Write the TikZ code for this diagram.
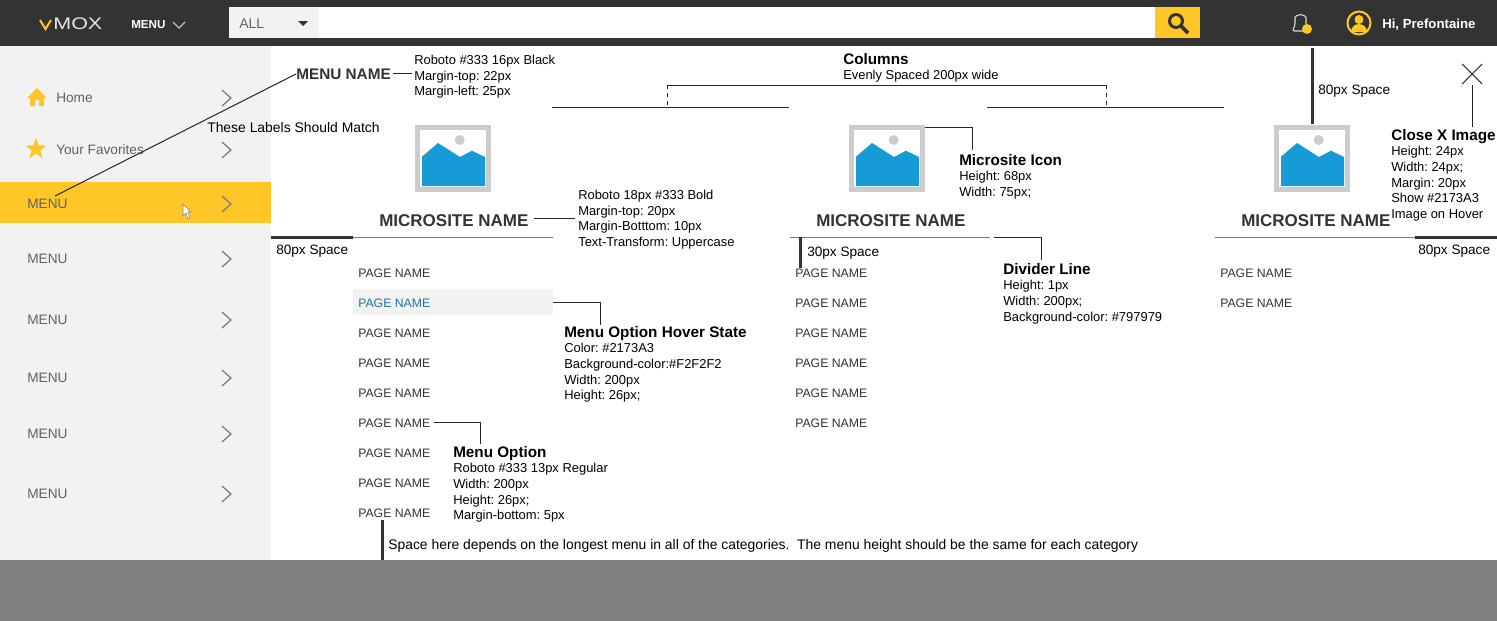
\documentclass[tikz,border=0pt]{standalone}
\usepackage{fontspec}
\setmainfont{Liberation Sans}
\frenchspacing
\usetikzlibrary{positioning,arrows.meta,calc,shapes.geometric}
\definecolor{hdrgray}{HTML}{333333}
\definecolor{sidegray}{HTML}{F2F2F2}
\definecolor{footgray}{HTML}{7F7F7F}
\definecolor{brand}{HTML}{FFC627}
\definecolor{linkblue}{HTML}{2173A3}
\definecolor{picblue}{HTML}{169BD7}
\definecolor{picgray}{HTML}{CCCCCC}
\definecolor{divgray}{HTML}{797979}
\tikzset{
  note/.style={anchor=north west,align=left,inner sep=0pt,text=black,font=\fontsize{9.7pt}{11.7pt}\selectfont},
  tag/.style={anchor=west,inner sep=0pt,text=black,font=\fontsize{10.2pt}{12pt}\selectfont},
  longtag/.style={tag,font=\fontsize{10.43pt}{12pt}\selectfont},
  pagename/.style={anchor=west,inner sep=0pt,text=hdrgray,font=\fontsize{9.2pt}{11pt}\selectfont},
  sitename/.style={anchor=west,inner sep=0pt,text=hdrgray,font=\fontsize{12.75pt}{15pt}\bfseries\selectfont},
  sideitem/.style={anchor=west,inner sep=0pt,text=black!62,font=\fontsize{10.25pt}{12pt}\selectfont},
  iconbox/.style={draw=picgray,line width=3.75pt,fill=white,minimum width=53.25pt,minimum height=46.5pt,inner sep=0pt},
  divider/.style={fill=divgray,minimum width=150pt,minimum height=.9pt,inner sep=0pt},
  lead/.style={draw=black!85,line width=.75pt},
  spacebar/.style={draw=hdrgray,line width=2.4pt},
  chevron/.style={draw=black!50,line width=1pt},
}
\newcommand{\headfont}{\fontsize{11.45pt}{11.7pt}\bfseries\selectfont}
\begin{document}
\begin{tikzpicture}[x=.75pt,y=-.75pt]
  \useasboundingbox (0,0) rectangle (1497,621);
  \fill[white] (0,0) rectangle (1497,621);
  \fill[sidegray] (0,46) rectangle (271,560);
  \fill[footgray] (0,560) rectangle (1497,621);
  \fill[hdrgray] (0,0) rectangle (1497,46);
  \fill[brand] (0,182) rectangle (271,223);

  \draw[brand,line width=1.5pt] (40,20)--(45.5,29)--(51,20);
  \node[anchor=west,inner sep=0pt,xscale=1.28,text=white!90!black,font=\fontsize{12.6pt}{14pt}\selectfont] (logo) at (53,24) {MOX};
  \node[anchor=west,inner sep=0pt,text=white,font=\fontsize{8.7pt}{11pt}\bfseries\selectfont] (topmenu) at (131,25) {MENU};
  \draw[white!75!black,line width=.8pt] (173,22)--(179,28)--(185,22);
  \fill[white] (229,7) rectangle (1155,38);
  \fill[sidegray] (229,7) rectangle (319,38);
  \node[anchor=west,inner sep=0pt,text=black!60,font=\fontsize{10.5pt}{12pt}\selectfont] (scope) at (239,24) {ALL};
  \fill[hdrgray] (298,21)--(308,21)--(303,26)--cycle;
  \fill[brand] (1155,7) rectangle (1200,38);
  \draw[hdrgray,line width=2.2pt] (1176,21) circle (6.5);
  \draw[hdrgray,line width=2.8pt] (1181,26)--(1188,33);
  \draw[white!85!black,line width=.8pt,rounded corners=2pt] (1292,31)--(1295,26)--(1295,20) arc[start angle=180,end angle=360,radius=5.5]--(1306,26)--(1309,31)--cycle;
  \fill[brand] (1307,29) circle (5);
  \draw[brand,line width=1.5pt] (1359,23) circle (11.5);
  \fill[brand] (1359,19.5) circle (4.5);
  \fill[brand] (1351,32) arc[start angle=180,end angle=360,radius=8] -- cycle;
  \node[anchor=west,inner sep=0pt,text=white,font=\fontsize{9.9pt}{12pt}\bfseries\selectfont] (greeting) at (1382,25) {Hi, Prefontaine};

  \fill[brand] (37,88)--(27,98)--(30,98)--(30,106)--(35,106)--(35,100)--(39,100)--(39,106)--(44,106)--(44,98)--(47,98)--cycle;
  \node[star,star points=5,star point ratio=2.4,fill=brand,inner sep=0pt,minimum size=16.5pt] (favstar) at (36,149) {};
  \node[sideitem] (home) at (56,98) {Home};
  \node[sideitem] (favs) at (56,150) {Your Favorites};
  \foreach \nm/\y in {mnua/204,mnub/259,mnuc/320,mnud/378,mnue/434,mnuf/494}
    \node[sideitem] (\nm) at (27,\y) {MENU};
  \foreach \y in {98,150,204,259,320,378,434,494}
    \draw[chevron] (222,{\y-8})--(231,\y)--(222,{\y+8});
  \draw[fill=white,draw=black!50,line width=.4pt] (183,204)--(183,216)--(186,213)--(188,219)--(190,218)--(188,212)--(191,212)--cycle;

  \node[tag,font=\fontsize{11.5pt}{14pt}\bfseries\selectfont,text=hdrgray] (menuname) at (296,74) {MENU NAME};
  \node[note] (menuspec) at (414,55) {Roboto \#333 16px Black\\Margin-top: 22px\\Margin-left: 25px};
  \node[longtag] (match) at (207,128) {These Labels Should Match};
  \coordinate (mnutop) at (55,196);
  \draw[lead] (menuname.west) -- (mnutop);
  \draw[lead] ($(menuname.east)+(2,-1)$) -- ($(menuspec.west |- menuname.east)+(-2,-1)$);

  \node[note] (cols) at (843,53) {{\headfont Columns}\\Evenly Spaced 200px wide};
  \coordinate (brka) at (667,85); \coordinate (brkb) at (1106,85);
  \coordinate (brkc) at (667,107); \coordinate (brkd) at (1106,107);
  \draw[lead] (brka) -- (brkb);
  \draw[lead,dashed] (brka) -- (brkc);
  \draw[lead,dashed] (brkb) -- (brkd);
  \draw[lead] (552,107) -- (789,107);
  \draw[lead] (987,107) -- (1224,107);

  \foreach \nm/\x in {icona/453,iconb/887,iconc/1312}{
    \node[iconbox] (\nm) at (\x,158.5) {};
    \fill[picblue] ({\x-31},156.7)--({\x-15},143)--({\x+7},157)--({\x+19},150.7)--({\x+32},157)--({\x+32},186)--({\x-31},186)--cycle;
    \fill[picgray] ({\x+6.7},140) circle (5);
  }
  \node[sitename] (sitea) at (379,221) {MICROSITE NAME};
  \node[sitename] (siteb) at (816,221) {MICROSITE NAME};
  \node[sitename] (sitec) at (1241,221) {MICROSITE NAME};
  \node[divider] (diva) at (453,237.5) {};
  \node[divider] (divb) at (890,237.5) {};
  \node[divider] (divc) at (1315,237.5) {};

  \node[note] (sitespec) at (578,190) {Roboto 18px \#333 Bold\\Margin-top: 20px\\Margin-Botttom: 10px\\Text-Transform: Uppercase};
  \draw[lead] ($(sitea.east)+(5,-3)$) -- ($(sitespec.west |- sitea.east)+(-3,-3)$);

  \fill[sidegray] (353,289) rectangle (553,315);
  \foreach \i in {0,2,3,4,5,6,7,8}
    \node[pagename] (pga\i) at (358,{273+30*\i}) {PAGE NAME};
  \node[pagename,text=linkblue] (pga1) at (358,303) {PAGE NAME};
  \foreach \i in {0,...,5}
    \node[pagename] (pgb\i) at (795,{273+30*\i}) {PAGE NAME};
  \foreach \i in {0,1}
    \node[pagename] (pgc\i) at (1220,{273+30*\i}) {PAGE NAME};

  \node[note] (iconspec) at (959,154) {{\headfont Microsite Icon}\\Height: 68px\\Width: 75px;};
  \coordinate (iconout) at (925,127);
  \draw[lead] (iconout) -| ($(iconspec.north west)+(13,-4)$);

  \node[note] (divspec) at (1003,263) {{\headfont Divider Line}\\Height: 1px\\Width: 200px;\\Background-color: \#797979};
  \coordinate (divout) at (994,237);
  \draw[lead] (divout) -| ($(divspec.north west)+(38,-3)$);

  \node[note] (hoverspec) at (564,326) {{\headfont Menu Option Hover State}\\Color: \#2173A3\\Background-color:\#F2F2F2\\Width: 200px\\Height: 26px;};
  \coordinate (hoverout) at (553,302);
  \draw[lead] (hoverout) -| ($(hoverspec.north west)+(36,-1)$);

  \node[note] (optspec) at (453,446) {{\headfont Menu Option}\\Roboto \#333 13px Regular\\Width: 200px\\Height: 26px;\\Margin-bottom: 5px};
  \draw[lead] ($(pga5.east)+(3,-1)$) -| ($(optspec.north west)+(27,-2)$);

  \node[note] (closespec) at (1391,129) {{\headfont Close X Image}\\Height: 24px\\Width: 24px;\\Margin: 20px\\Show \#2173A3\\Image on Hover};
  \node[minimum size=14.5pt,inner sep=0pt] (closex) at (1472,74) {};
  \draw[draw=black!80,line width=.8pt] (closex.north west) -- (closex.south east);
  \draw[draw=black!80,line width=.8pt] (closex.north east) -- (closex.south west);
  \draw[lead] ($(closex.south)+(0,1)$) -- ($(closespec.north west)+(81,-2)$);

  \coordinate (topbara) at (1312.5,48); \coordinate (topbarb) at (1312.5,124);
  \draw[spacebar] (topbara) -- (topbarb);
  \node[tag] (topspace) at (1318,91) {80px Space};
  \draw[spacebar] (271,237.3) -- (353,237.3);
  \node[tag] (leftspace) at (276,251) {80px Space};
  \draw[spacebar] (1415,237.3) -- (1497,237.3);
  \node[tag] (rightspace) at (1418,251) {80px Space};
  \draw[spacebar] (800.5,237) -- (800.5,268);
  \node[tag] (midspace) at (807,253) {30px Space};
  \draw[spacebar] (382.5,520) -- (382.5,560);
  \node[longtag] (restspace) at (388,546) {Space here depends on the longest menu in all of the categories.\ \ The menu height should be the same for each category};
\end{tikzpicture}
\end{document}
